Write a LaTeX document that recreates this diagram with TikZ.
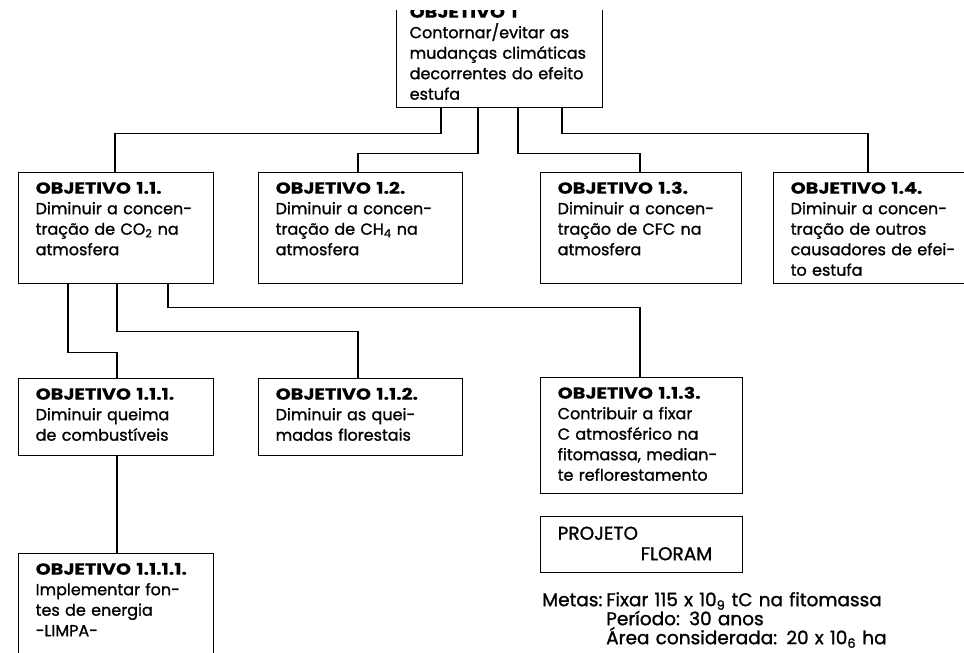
\documentclass[tikz,border=0pt]{standalone}
\usepackage{fontspec}
\setmainfont{Poppins}[FakeBold=1.2, BoldFeatures={FakeStretch=1.2, FakeBold=0.3}]
\usetikzlibrary{positioning}

\tikzset{
  objbox/.style 2 args={draw, line width=1.4pt, anchor=north west, inner xsep=0pt, inner ysep=10pt,
    text width=#1, text height=11pt, text depth=#2, align=left,
    execute at begin node={\leftskip=17pt}},
  link/.style={line width=1.4pt}
}

\begin{document}
\begin{tikzpicture}[x=1pt, y=-1pt, every node/.style={font=\fontsize{16}{20.5}\selectfont}]
    \useasboundingbox (0,0) rectangle (964,653);
    \clip (0,10) rectangle (964,653);
    \node[objbox={206pt}{80pt}, execute at begin node={\leftskip=13pt}] (top) at (396,-4) {\textbf{OBJETIVO 1}\\Contornar/evitar as\\mudanças climáticas\\decorrentes do efeito\\estufa};
    \node[objbox={195pt}{80pt}] (o11) at (18,172) {\textbf{OBJETIVO 1.1.}\\Diminuir a concen-\\tração de CO\textsubscript{2} na\\atmosfera};
    \node[objbox={204pt}{80pt}] (o12) at (258,172) {\textbf{OBJETIVO 1.2.}\\Diminuir a concen-\\tração de CH\textsubscript{4} na\\atmosfera};
    \node[objbox={201pt}{80pt}] (o13) at (540,172) {\textbf{OBJETIVO 1.3.}\\Diminuir a concen-\\tração de CFC na\\atmosfera};
    \node[objbox={210pt}{80pt}] (o14) at (773,172) {\textbf{OBJETIVO 1.4.}\\Diminuir a concen-\\tração de outros\\causadores de efei-\\to estufa};
    \node[objbox={195pt}{46pt}] (o111) at (18,378) {\textbf{OBJETIVO 1.1.1.}\\Diminuir queima\\de combustíveis};
    \node[objbox={204pt}{46pt}] (o112) at (258,378) {\textbf{OBJETIVO 1.1.2.}\\Diminuir as quei-\\madas florestais};
    \node[objbox={202pt}{85pt}] (o113) at (540,377) {\textbf{OBJETIVO 1.1.3.}\\Contribuir a fixar\\C atmosférico na\\fitomassa, median-\\te reflorestamento};
    \node[objbox={195pt}{89pt}] (o1111) at (18,553) {\textbf{OBJETIVO 1.1.1.1.}\\Implementar fon-\\tes de energia\\-LIMPA-};
    \node[objbox={202pt}{23pt}, text height=13pt, font=\fontsize{18.5}{20.5}\selectfont] (floram) at (540,516) {PROJETO\\\hspace*{83pt}FLORAM};
    \node[anchor=north west, inner sep=0pt, text width=380pt, text height=13pt, align=left,
      font=\fontsize{18.5}{19}\selectfont] (metas) at (542,593)
      {\makebox[64pt][l]{Metas:}Fixar 115 x 10\textsubscript{9} tC na fitomassa\\
       \hspace*{64pt}Período: 30 anos\\
       \hspace*{64pt}Área considerada: 20 x 10\textsubscript{6} ha};
    \draw[link] ([xshift=45pt]top.south west) -- ++(0,25) -| ([xshift=97pt]o11.north west);
    \draw[link] ([xshift=82pt]top.south west) -- ++(0,45) -| ([xshift=100pt]o12.north west);
    \draw[link] ([xshift=122pt]top.south west) -- ++(0,45) -| ([xshift=100pt]o13.north west);
    \draw[link] ([xshift=166pt]top.south west) -- ++(0,25) -| ([xshift=95pt]o14.north west);
    \draw[link] ([xshift=150pt]o11.south west) -- ++(0,23) -| ([xshift=100pt]o113.north west);
    \draw[link] ([xshift=99pt]o11.south west) -- ++(0,47) -| ([xshift=100pt]o112.north west);
    \draw[link] ([xshift=50pt]o11.south west) -- ++(0,68) -| ([xshift=99pt]o111.north west);
    \draw[link] ([xshift=99pt]o111.south west) -- ([xshift=99pt]o1111.north west);
\end{tikzpicture}
\end{document}
